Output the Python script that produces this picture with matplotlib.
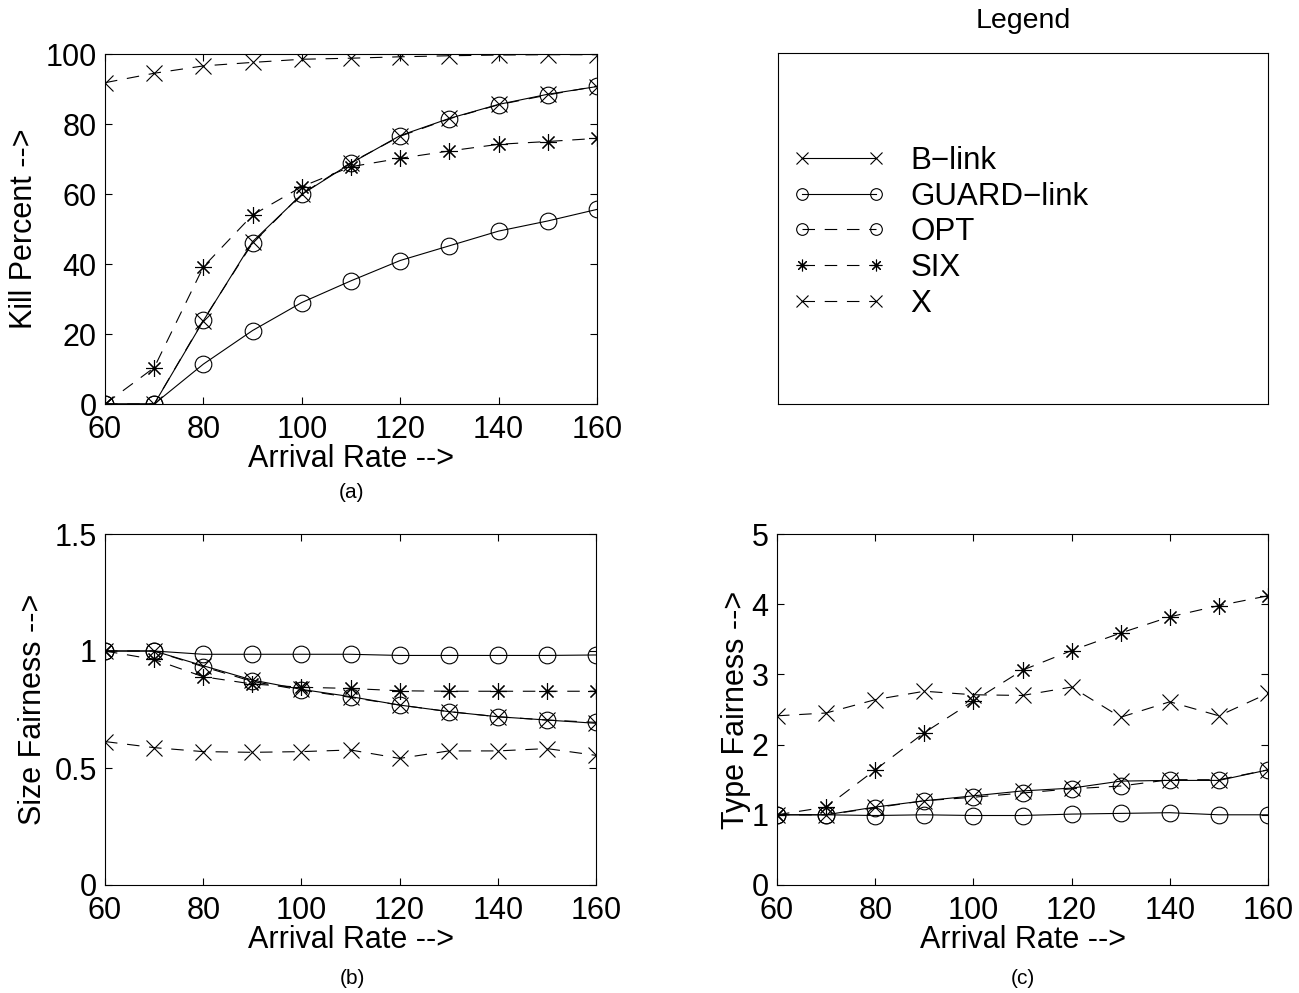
import matplotlib
matplotlib.use("Agg")
import matplotlib.pyplot as plt

plt.rcParams['font.family'] = ['Liberation Sans', 'DejaVu Sans']
plt.rcParams['lines.scale_dashes'] = False

rate = [60, 70, 80, 90, 100, 110, 120, 130, 140, 150, 160]

# (a) kill percent
kill_blink = [0, 0, 23.8, 46.4, 59.9, 68.8, 76.7, 81.6, 85.6, 88.5, 90.7]
kill_guard = [0, 0, 11.4, 21.0, 29.0, 35.2, 41.0, 45.2, 49.4, 52.3, 55.6]
kill_opt = [0, 0, 24.0, 46.0, 60.0, 69.0, 76.5, 81.5, 85.5, 88.3, 90.8]
kill_six = [0, 10.4, 39.2, 54.0, 62.1, 67.8, 70.2, 72.3, 74.2, 75.0, 75.9]
kill_x = [91.8, 94.5, 96.6, 97.6, 98.5, 98.8, 99.2, 99.5, 99.7, 99.8, 99.8]

# (b) size fairness
size_blink = [1.0, 1.0, 0.937, 0.876, 0.836, 0.805, 0.769, 0.741, 0.719, 0.705, 0.691]
size_guard = [1.0, 1.0, 0.986, 0.986, 0.986, 0.986, 0.981, 0.981, 0.981, 0.981, 0.983]
size_opt = [1.0, 1.0, 0.933, 0.870, 0.833, 0.802, 0.769, 0.741, 0.719, 0.705, 0.695]
size_six = [1.0, 0.964, 0.890, 0.859, 0.845, 0.840, 0.830, 0.828, 0.828, 0.828, 0.828]
size_x = [0.613, 0.587, 0.570, 0.567, 0.570, 0.577, 0.541, 0.573, 0.573, 0.583, 0.554]

# (c) type fairness
type_blink = [1.0, 1.0, 1.11, 1.20, 1.27, 1.34, 1.38, 1.48, 1.49, 1.49, 1.64]
type_guard = [1.0, 1.0, 0.99, 1.0, 0.99, 0.99, 1.01, 1.02, 1.03, 1.0, 1.0]
type_opt = [1.0, 1.0, 1.10, 1.20, 1.25, 1.31, 1.37, 1.41, 1.50, 1.50, 1.64]
type_six = [1.0, 1.11, 1.64, 2.17, 2.62, 3.06, 3.34, 3.59, 3.82, 3.98, 4.12]
type_x = [2.41, 2.45, 2.64, 2.76, 2.71, 2.70, 2.82, 2.39, 2.61, 2.41, 2.73]

labels = ["B\u2212link", "GUARD\u2212link", "OPT", "SIX", "X"]
DASH = (0, (9, 7))
ASTER = (8, 2, 0)
styles = [
    dict(ls='-', marker='x'),
    dict(ls='-', marker='o'),
    dict(ls=DASH, marker='o'),
    dict(ls=DASH, marker=ASTER),
    dict(ls=DASH, marker='x'),
]

FS = 22
fig = plt.figure(figsize=(12.99, 9.93), dpi=100)
W, H = 1299, 993


def make_axes(left, top, right, bottom):
    return fig.add_axes([left / W, 1 - bottom / H, (right - left) / W, (bottom - top) / H])


def draw_panel(ax, series, yticks, yticklabels, ylabel, ylab_x):
    for ys, st in zip(series, styles):
        ax.plot(rate, ys, color='black', lw=0.8, ls=st['ls'], marker=st['marker'],
                ms=12, mfc='none', mec='black', mew=0.8)
    ax.set_xlim(60, 160)
    ax.set_xticks(range(60, 161, 20))
    ax.set_ylim(yticks[0], yticks[-1])
    ax.set_yticks(yticks)
    ax.set_yticklabels(yticklabels)
    ax.tick_params(direction='in', top=True, right=True, length=5, width=0.8,
                   labelsize=FS, pad=6)
    ax.tick_params(axis='x', pad=8)
    for s in ax.spines.values():
        s.set_linewidth(0.8)
    ax.set_xlabel("Arrival Rate -->", fontsize=FS, labelpad=-1)
    ax.set_ylabel(ylabel, fontsize=FS, va='center')
    ax.yaxis.set_label_coords(ylab_x, 0.5)


ax_a = make_axes(105, 54, 597, 404)
draw_panel(ax_a, [kill_blink, kill_guard, kill_opt, kill_six, kill_x],
           [0, 20, 40, 60, 80, 100], ["0", "20", "40", "60", "80", "100"],
           "Kill Percent -->", (24 - 105) / 492)

ax_b = make_axes(105, 534, 596, 885)
draw_panel(ax_b, [size_blink, size_guard, size_opt, size_six, size_x],
           [0, 0.5, 1, 1.5], ["0", "0.5", "1", "1.5"],
           "Size Fairness -->", (33 - 105) / 491)

ax_c = make_axes(777, 534, 1268, 885)
draw_panel(ax_c, [type_blink, type_guard, type_opt, type_six, type_x],
           [0, 1, 2, 3, 4, 5], ["0", "1", "2", "3", "4", "5"],
           "Type Fairness -->", (736 - 777) / 491)

# legend panel
ax_l = make_axes(778, 53, 1268, 404)
ax_l.set_xticks([])
ax_l.set_yticks([])
for s in ax_l.spines.values():
    s.set_linewidth(0.8)
handles = []
for lab, st in zip(labels, styles):
    h, = ax_l.plot([], [], color='black', lw=0.8, ls=st['ls'], marker=st['marker'],
                   ms=12, mfc='none', mec='black', mew=0.8, label=lab)
    handles.append(h)
ax_l.legend(handles=handles, loc='upper left', bbox_to_anchor=(15 / 490, 0.735),
            frameon=False, fontsize=22.5, numpoints=2, markerscale=0.7,
            handlelength=2.95, handletextpad=0.8, labelspacing=0.18,
            borderaxespad=0, borderpad=0)

fig.text(1023 / W, 1 - 21 / H, "Legend", ha='center', va='center', fontsize=20.5)
fig.text(352 / W, 1 - 493 / H, "(a)", ha='center', va='center', fontsize=15)
fig.text(352 / W, 1 - 979 / H, "(b)", ha='center', va='center', fontsize=15)
fig.text(1023 / W, 1 - 979 / H, "(c)", ha='center', va='center', fontsize=15)

fig.savefig("out.png", dpi=100)
